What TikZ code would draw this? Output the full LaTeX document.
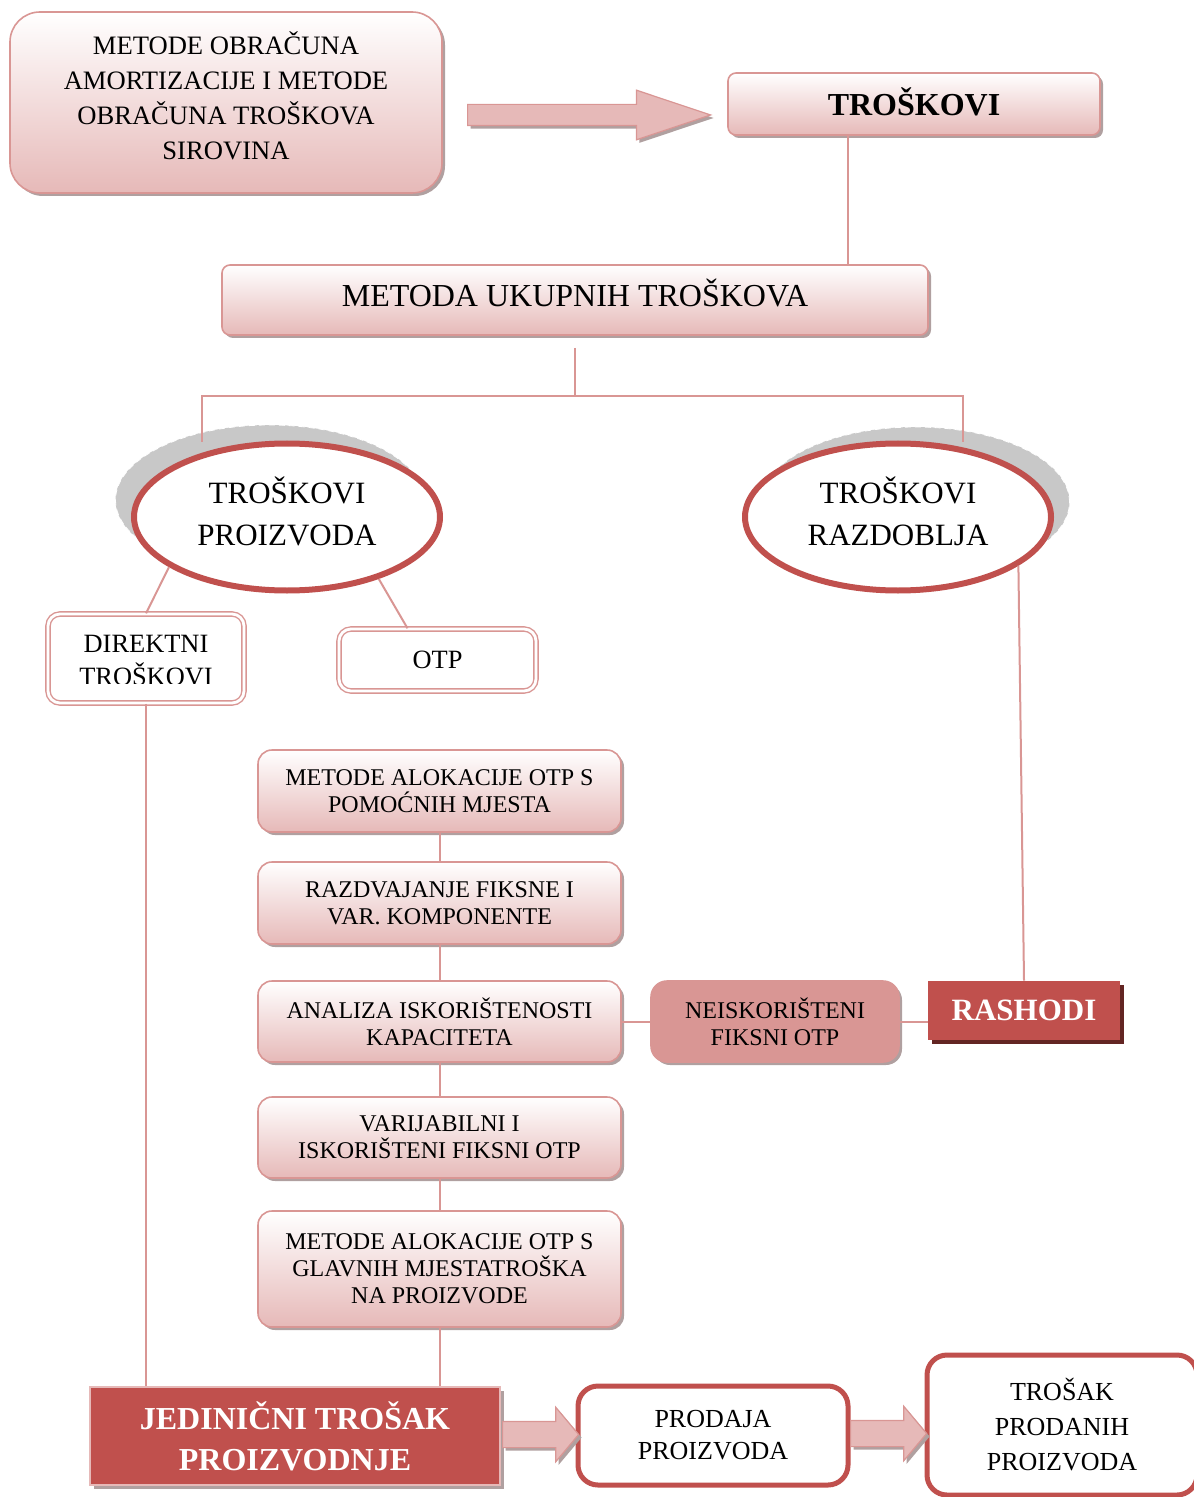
\documentclass[tikz,border=0pt]{standalone}
\usepackage{fontspec}
\setmainfont{Liberation Serif}
\usetikzlibrary{shapes.geometric,shapes.arrows,shadows,calc}
\definecolor{dark_red}{RGB}{192,80,77}
\definecolor{rose}{RGB}{217,150,148}
\definecolor{pale_rose}{RGB}{230,185,184}
\definecolor{shadow_gray}{RGB}{176,160,160}
\definecolor{ring_gray}{RGB}{200,200,200}
\definecolor{deep_red}{RGB}{99,37,35}

\tikzset{
	conn/.style={draw=rose,line width=1pt},
	pinkbox/.style={draw=rose,line width=0.8pt,rounded corners=4pt,top color=white,bottom color=pale_rose,
		align=center,inner sep=0pt,drop shadow={shadow xshift=1.5pt,shadow yshift=-1.5pt,fill=shadow_gray,opacity=1}},
	colbox/.style={pinkbox,rounded corners=7pt,minimum width=181.5pt,font=\fontsize{12}{13.5}\selectfont},
	ring/.style={ellipse,draw=dark_red,line width=3pt,fill=white,minimum width=153pt,minimum height=73.5pt,
		inner sep=0pt,align=center,text depth=6pt,font=\fontsize{15.5}{21}\selectfont},
	ringshade/.style={ellipse,fill=ring_gray,draw=white,densely dashed,line width=0.4pt,minimum width=154pt,
		minimum height=75pt,inner sep=0pt},
	dblbox/.style={draw=rose,double=white,double distance=1.4pt,line width=0.7pt,rounded corners=6pt,fill=white,
		align=center,inner sep=0pt,font=\fontsize{13.2}{16.5}\selectfont},
	redbox/.style={fill=dark_red,text=white,align=center,inner sep=0pt},
	outlinebox/.style={draw=dark_red,line width=2.5pt,rounded corners=10pt,fill=white,align=center,inner sep=0pt,
		font=\fontsize{13}{16}\selectfont},
	bigarrow/.style={single arrow,anchor=tail,draw=rose,line width=0.6pt,top color=pale_rose,middle color=white!70!pale_rose,
		bottom color=pale_rose,inner sep=0pt,text depth=0pt,single arrow head indent=0pt,
		drop shadow={shadow xshift=1.5pt,shadow yshift=-1.5pt,fill=shadow_gray,opacity=1}}
}

\begin{document}
\begin{tikzpicture}[x=0.5pt,y=-0.5pt]
	\useasboundingbox (0,0) rectangle (1193,1497);

	% top row
	\node[pinkbox,rounded corners=15pt,minimum width=216pt,minimum height=90.5pt,text depth=7pt,font=\fontsize{13.3}{17.5}\selectfont] (methods) at (226,102.5) {METODE OBRAČUNA\\AMORTIZACIJE I METODE\\OBRAČUNA TROŠKOVA\\SIROVINA};
	\node[pinkbox,minimum width=186pt,minimum height=31pt,text depth=2pt,font=\fontsize{16}{19}\selectfont\bfseries] (costs) at (914,104) {TROŠKOVI};
	\node[bigarrow,text height=10pt,minimum width=21pt,minimum height=121.5pt,single arrow tip angle=37] (arrow1) at (467,115) {};
	\node[pinkbox,minimum width=353pt,minimum height=35pt,text depth=7pt,font=\fontsize{16}{19}\selectfont] (total) at (575,300) {METODA UKUPNIH TROŠKOVA};

	% split to the two ellipses
	\node[ringshade] (prodshade) at (269.5,500) {};
	\node[ringshade] (periodshade) at (915.5,502) {};
	\coordinate (split) at ([yshift=-30pt]total.south);
	\coordinate (prodtop) at (202,442);
	\coordinate (periodtop) at (963,442);
	\draw[conn] ([yshift=-6pt]total.south) -- (split);
	\draw[conn] (prodtop) |- (split) -| (periodtop);
	\node[ring] (prodcosts) at (287,517) {TROŠKOVI\\PROIZVODA};
	\node[ring] (periodcosts) at (898,517) {TROŠKOVI\\RAZDOBLJA};

	% direct costs and OTP
	\node[dblbox,minimum width=98pt,minimum height=44.5pt] (direct) at (146,658.5) {};
	\begin{scope}
		\clip (direct.north west) rectangle ([yshift=10pt]direct.south east);
		\node[font=\fontsize{13.2}{16.5}\selectfont,align=center] (directlabel) at ([yshift=-1pt]direct.center) {DIREKTNI\\TROŠKOVI};
	\end{scope}
	\node[dblbox,minimum width=98.5pt,minimum height=31pt] (otp) at (437.5,660) {OTP};

	% allocation column
	\node[colbox,minimum height=41pt] (alloc1) at (439.5,791) {METODE ALOKACIJE OTP S\\POMOĆNIH MJESTA};
	\node[colbox,minimum height=41pt] (split2) at (439.5,903) {RAZDVAJANJE FIKSNE I\\VAR.  KOMPONENTE};
	\node[colbox,minimum height=40.5pt] (capacity) at (439.5,1021.5) {ANALIZA ISKORIŠTENOSTI\\KAPACITETA};
	\node[colbox,minimum height=40.5pt] (usedotp) at (439.5,1137.5) {VARIJABILNI I\\ISKORIŠTENI FIKSNI OTP};
	\node[colbox,minimum height=58pt] (alloc2) at (439.5,1269) {METODE ALOKACIJE OTP S\\GLAVNIH MJESTATROŠKA\\NA PROIZVODE};

	\node[pinkbox,rounded corners=8pt,top color=rose,bottom color=rose,minimum width=124pt,minimum height=40.5pt,
		font=\fontsize{12}{13.5}\selectfont] (unused) at (775,1021.5) {NEISKORIŠTENI\\FIKSNI OTP};
	\node[redbox,minimum width=96pt,minimum height=29.5pt,font=\fontsize{15.5}{18}\selectfont\bfseries,
		drop shadow={shadow xshift=2pt,shadow yshift=-2pt,fill=deep_red,opacity=1}] (expenses) at (1024,1010.5) {RASHODI};

	% bottom row
	\node[redbox,draw=pale_rose,line width=0.8pt,minimum width=205pt,minimum height=49pt,font=\fontsize{16}{20.5}\selectfont\bfseries,
		drop shadow={shadow xshift=2pt,shadow yshift=-2pt,fill=shadow_gray,opacity=1}] (unitcost) at (295,1436) {JEDINIČNI TROŠAK\\PROIZVODNJE};
	\node[outlinebox,minimum width=135pt,minimum height=49.5pt] (sales) at (713,1435.5) {PRODAJA\\PROIZVODA};
	\node[outlinebox,minimum width=135pt,minimum height=70pt,font=\fontsize{13}{17.5}\selectfont] (cogs) at (1062,1425) {TROŠAK\\PRODANIH\\PROIZVODA};
	\node[bigarrow,text height=12.5pt,minimum width=22pt,minimum height=38pt,single arrow tip angle=100] (arrow2) at (502,1434.5) {};
	\node[bigarrow,text height=12.5pt,minimum width=22pt,minimum height=38pt,single arrow tip angle=100] (arrow3) at (850,1433.5) {};

	% connectors
	\draw[conn] ([xshift=-33pt]costs.south) -- ([xshift=-33pt]costs.south |- total.north);
	\draw[conn] (prodcosts.203) -- (direct.north);
	\draw[conn] (prodcosts.326) -- ([xshift=-15pt]otp.north);
	\draw[conn] (periodcosts.338) -- (expenses.north);
	\draw[conn] (direct.south) -- (direct.south |- unitcost.north);
	\foreach \a/\b in {alloc1/split2,split2/capacity,capacity/usedotp,usedotp/alloc2}
		\draw[conn] (\a.south) -- (\b.north);
	\draw[conn] (alloc2.south) -- (alloc2.south |- unitcost.north);
	\draw[conn] (capacity.east) -- (unused.west);
	\draw[conn] (unused.east) -- (unused.east -| expenses.west);
\end{tikzpicture}
\end{document}
